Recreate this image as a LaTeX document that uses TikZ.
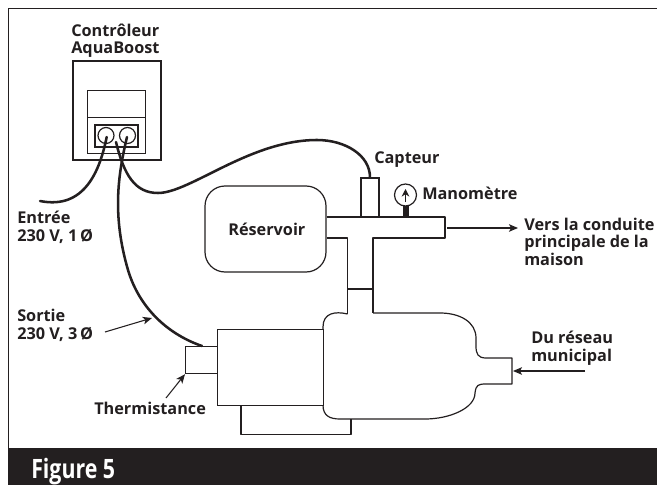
\documentclass[tikz,border=0pt]{standalone}
\usepackage{fontspec}
\setmainfont{Open Sans}
\newfontfamily\figfont[FakeStretch=0.8]{Open Sans}
\usepackage{xcolor}
\definecolor{inkdark}{HTML}{231F20}
\usetikzlibrary{arrows.meta,positioning}

\begin{document}
\begin{tikzpicture}[
  x=0.75pt, y=-0.75pt,
  part/.style 2 args={rectangle, draw=inkdark, fill=white, line width=0.9pt, inner sep=0pt,
    minimum width=#1*0.75pt, minimum height=#2*0.75pt},
  dial/.style={circle, draw=inkdark, fill=white, line width=0.9pt, inner sep=0pt,
    minimum size=#1*0.75pt},
  lbl/.style={anchor=base west, align=left, inner sep=0pt, text=inkdark,
    font=\fontsize{12.2}{12.9}\selectfont\bfseries},
  pipe/.style={draw=inkdark, line width=0.9pt, line join=round},
  wire/.style={draw=inkdark, line width=1.9pt, line cap=round},
  arr/.style={-{Stealth[length=2.4mm,width=2mm,inset=0.6mm]}, draw=inkdark, line width=0.8pt}
]
\useasboundingbox (0,0) rectangle (657,485);

% frame and title band
\coordinate (frametl) at (8.5,8.5);
\coordinate (framebl) at (8.5,448);
\coordinate (frametr) at (657,8.5);
\draw[pipe] (framebl) -- (frametl) -- (frametr);
\node[rectangle, fill=inkdark, inner sep=0pt, minimum width=649*0.75pt, minimum height=37*0.75pt,
  anchor=north west] (band) at (8,448) {};
\node[anchor=base west, inner sep=0pt, text=white, font=\figfont\fontsize{20}{20}\selectfont\bfseries] (title) at (31,478) {Figure 5};

% controller
\node[part={88}{99}] (ctrl) at (117,110.5) {};
\node[part={58}{27}] (screen) at (116.5,104) {};
\node[part={58}{36}] (tray) at (116.5,135.5) {};
\node[part={43}{22}] (term) at (116.5,136) {};
\node[dial=16] (t1) at (106,135.5) {};
\node[dial=16] (t2) at (127.5,135.5) {};

% reservoir and tee
\node[part={121}{86}, rounded corners=20*0.75pt] (tank) at (265.5,229) {};
\draw[pipe] (tank.east |- 0,217) -- (445,217) -- (445,238) -- (373,238) -- (373,313);
\draw[pipe] (tank.east |- 0,238) -- (347.5,238) -- (347.5,314);
\draw[pipe] (347.5,289) -- (373,289);
\node[part={18}{39}] (sensor) at (370,197.5) {};

% gauge
\node[part={5.5}{11}, fill=inkdark] (stem) at (406,211.5) {};
\node[dial=22] (gauge) at (405.5,195) {};
\draw[-{Stealth[length=2mm,width=2mm]}, draw=inkdark, line width=1.2pt] (gauge.center) ++(0,7) -- ++(0,-13);

% pump
\draw[pipe] (347.5,314)
  .. controls (335,311) and (323,313) .. (323,327) -- (323,405)
  .. controls (323,416) and (330,419) .. (340,419) -- (425,419)
  .. controls (450,419) and (475,408) .. (475,393)
  .. controls (476,385) and (478,384) .. (486,384) -- (512,384) -- (512,358) -- (486,358)
  .. controls (478,358) and (476,354) .. (476,346) -- (476,338)
  .. controls (476,322) and (460,313) .. (440,313) -- (373,313);
\node[part={106}{76}, anchor=north west] (motor) at (217,329) {};
\node[part={32}{27}, anchor=north west] (therm) at (185,346) {};
\draw[pipe] (241,405) -- (241,434.5) -- (351,434.5) -- (351,419);

% wires
\coordinate (infree) at (40,201);
\coordinate (t3) at (116,142);
\coordinate (thermtop) at (202,346);
\draw[wire] (t1.center) ++(0.7,1.5) .. controls (100,170) and (85,210) .. (infree);
\draw[wire] (t2.center) ++(-0.5,1.5) .. controls (118,175) and (112,215) .. (128,270)
  .. controls (140,310) and (170,335) .. (thermtop);
\draw[wire] (t3) .. controls (124,175) and (135,193) .. (158,193)
  .. controls (190,193) and (250,140) .. (317,140)
  .. controls (345,140) and (370,155) .. (sensor.north);

% labels
\node[lbl] (lctrl) at (71,54) {Contrôleur\\AquaBoost};
\node[lbl] (lin) at (17,241) {Entrée\\230 V, 1\,Ø};
\node[lbl] (lout) at (17,339) {Sortie\\230 V, 3\,Ø};
\node[lbl] (ltherm) at (94,414) {Thermistance};
\node[lbl] (ltank) at (228,235) {Réservoir};
\node[lbl] (lsensor) at (374,163) {Capteur};
\node[lbl] (lgauge) at (422,199) {Manomètre};
\node[lbl] (lhouse) at (524,265) {Vers la conduite\\principale de la\\maison};
\node[lbl] (lcity) at (531,361) {Du réseau\\municipal};

% arrows
\coordinate (housestart) at (447,228);
\coordinate (houseend) at (518,228);
\coordinate (cityend) at (585,371);
\coordinate (cityhead) at (513,371);
\coordinate (outstart) at (105,332);
\coordinate (outend) at (152,318);
\coordinate (thermstart) at (166,398);
\draw[arr] (housestart) -- (houseend);
\draw[arr] (cityend) -- (cityhead);
\draw[arr] (outstart) -- (outend);
\draw[arr] (thermstart) -- (therm.south west);

\end{tikzpicture}
\end{document}
